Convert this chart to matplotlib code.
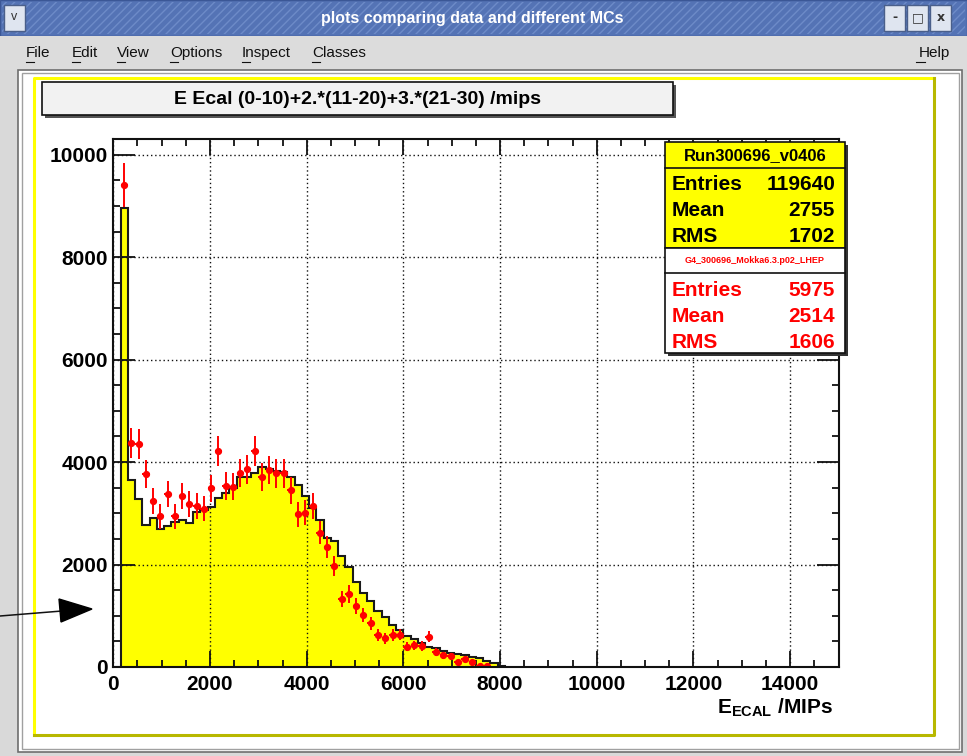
import numpy as np
import matplotlib
matplotlib.use("Agg")
import matplotlib.pyplot as plt
from matplotlib.patches import Rectangle, Polygon
from matplotlib.lines import Line2D

plt.rcParams['font.family'] = ['Liberation Sans', 'DejaVu Sans']
plt.rcParams['mathtext.fontset'] = 'custom'
plt.rcParams['mathtext.bf'] = 'Liberation Sans:bold'
plt.rcParams['mathtext.rm'] = 'Liberation Sans:bold'

# ---------------- data ----------------
bin_width = 150.0
x_range = (0, 15000)
# yellow histogram: Run300696_v0406 (bins of 150 starting at 0)
data_counts = [0, 8950, 3648, 3285, 2775, 2915, 2692, 2751, 2835, 2868,
               2809, 3030, 3063, 3130, 3300, 3390, 3500, 3713, 3713, 3795,
               3905, 3857, 3824, 3811, 3714, 3560, 3345, 3100, 2860, 2515,
               2460, 2170, 1955, 1665, 1445, 1285, 1099, 969, 819, 722,
               605, 540, 462, 397, 364, 319, 280, 254, 228, 202,
               169, 124, 72, 25]
# red points: G4_300696_Mokka6.3.p02_LHEP, scaled to data
mc_counts = [0, 9404, 4377, 4351, 3765, 3233, 2946, 3375, 2946, 3336,
             3174, 3141, 3089, 3486, 4214, 3531, 3518, 3791, 3857, 4214,
             3714, 3844, 3778, 3778, 3453, 2985, 3011, 3148, 2621, 2340,
             1971, 1325, 1424, 1185, 1018, 852, 624, 565, 624, 630,
             397, 420, 412, 592, 286, 234, 210, 100, 150, 100,
             20, 20]
mc_scale = 119640 / 5975.0

title_text = "E Ecal (0-10)+2.*(11-20)+3.*(21-30) /mips"
stats_data = ("Run300696_v0406", [("Entries", "119640"), ("Mean", "2755"), ("RMS", "1702")])
stats_mc = ("G4_300696_Mokka6.3.p02_LHEP", [("Entries", "5975"), ("Mean", "2514"), ("RMS", "1606")])
x_ticks = [0, 2000, 4000, 6000, 8000, 10000, 12000, 14000]
y_ticks = [0, 2000, 4000, 6000, 8000, 10000]

# ---------------- figure ----------------
W, H = 967, 756
fig = plt.figure(figsize=(W / 100, H / 100), dpi=100)
fig.patch.set_facecolor('#d9d9d9')


def fx(x):
    return x / W


def fy(y):
    return 1 - y / H


def rect(x0, y0, x1, y1, z=0, **kw):
    r = Rectangle((fx(x0), fy(y1)), (x1 - x0) / W, (y1 - y0) / H,
                  transform=fig.transFigure, zorder=z, **kw)
    fig.add_artist(r)
    return r


def line(xs, ys, z=1, **kw):
    l = Line2D([fx(v) for v in xs], [fy(v) for v in ys],
               transform=fig.transFigure, zorder=z, **kw)
    fig.add_artist(l)
    return l


def text(x, y, s, **kw):
    return fig.text(fx(x), fy(y), s, **kw)


# window title bar
rect(0, 0, 967, 36, z=0, facecolor='#5473b5', edgecolor='#3b5796', linewidth=1)
rect(2, 2, 965, 34, z=0, facecolor='none', edgecolor='#6d8bc8', hatch='////', linewidth=0)
text(472, 19, "plots comparing data and different MCs", color='white', fontsize=11.5,
     fontweight='bold', ha='center', va='center')
# title bar buttons
rect(4, 5, 25, 31, z=1, facecolor='#dfe5f0', edgecolor='#4a5f8a', linewidth=1)
text(14.5, 17, "v", fontsize=9, ha='center', va='center', color='#333333')
for bx, glyph in [(884, "-"), (907, "□"), (930, "x")]:
    rect(bx, 5, bx + 21, 31, z=1, facecolor='#dfe5f0', edgecolor='#4a5f8a', linewidth=1)
    text(bx + 10.5, 17.5, glyph, fontsize=9, ha='center', va='center', color='#333333',
         fontweight='bold', family=['DejaVu Sans'])

# menu bar
rect(0, 36, 967, 70, z=0, facecolor='#dcdcdc', edgecolor='none')
menu_items = [("File", 26), ("Edit", 72), ("View", 117), ("Options", 170),
              ("Inspect", 242), ("Classes", 312)]
for name, mx in menu_items:
    t = text(mx, 53, name, fontsize=11, ha='left', va='center', color='#111111')
text(950, 53, "Help", fontsize=11, ha='right', va='center', color='#111111')
# underline first letters
for name, mx in menu_items:
    line([mx, mx + 8], [62, 62], color='#111111', linewidth=0.8)
line([916, 925], [62, 62], color='#111111', linewidth=0.8)

# canvas sunken frame
rect(18, 70, 962, 752, z=0, facecolor='#ffffff', edgecolor='#6e6e6e', linewidth=1.2)
rect(22, 73, 959, 749, z=0, facecolor='#ffffff', edgecolor='#a0a0a0', linewidth=1.0)

# yellow bevel border of the pad
line([34, 34, 934], [735, 78, 78], color='#ffff00', linewidth=2.2, z=1)
line([34, 934, 934], [735, 735, 78], color='#b8b800', linewidth=2.2, z=1)

# ---------------- axes ----------------
ax_l, ax_r, ax_t, ax_b = 113.3, 838.5, 139.3, 667.0
ax = fig.add_axes([fx(ax_l), fy(ax_b), (ax_r - ax_l) / W, (ax_b - ax_t) / H])
ax.set_facecolor('white')
ymax = 10300
ax.set_xlim(*x_range)
ax.set_ylim(0, ymax)

edges = np.arange(len(data_counts) + 1) * bin_width
ax.stairs(data_counts, edges, fill=True, color='#ffff00', zorder=2)
ax.stairs(data_counts, edges, color='#1a1a1a', linewidth=1.5, zorder=3, baseline=0)

mc = np.array(mc_counts, dtype=float)
centers = (np.arange(len(mc)) + 0.5) * bin_width
mask = mc > 0
errs = np.sqrt(mc[mask] * mc_scale)
ax.errorbar(centers[mask], mc[mask], yerr=errs, xerr=bin_width / 2, fmt='o',
            color='#ff0000', ecolor='#ff0000', markersize=4.2, elinewidth=1.4,
            capsize=0, zorder=4)

ax.set_xticks(x_ticks)
ax.set_yticks(y_ticks)
ax.set_xticks(np.arange(0, 15001, 500), minor=True)
ax.set_yticks(np.arange(0, ymax, 500), minor=True)
ax.set_xticklabels([str(v) for v in x_ticks])
ax.set_yticklabels([str(v) for v in y_ticks])
ax.tick_params(axis='both', which='both', direction='in', top=True, right=True,
               labelsize=15, width=1.3, color='#111111')
ax.tick_params(axis='x', which='major', length=11.5, pad=6)
ax.tick_params(axis='x', which='minor', length=5)
ax.tick_params(axis='y', which='major', length=16, pad=4)
ax.tick_params(axis='y', which='minor', length=5)
for lab in ax.get_xticklabels() + ax.get_yticklabels():
    lab.set_fontweight('bold')
ax.grid(True, which='major', color='#111111', linestyle=(0, (1, 2)), linewidth=1.0, zorder=1)
ax.set_axisbelow(False)
for sp in ax.spines.values():
    sp.set_linewidth(1.5)
    sp.set_color('#111111')
    sp.set_zorder(5)

text(833, 713, r"$\mathbf{E}_{\mathbf{ECAL}}$ /MIPs", fontsize=15, fontweight='bold',
     ha='right', va='baseline')

# ---------------- title box ----------------
rect(45, 85, 676, 118, z=3, facecolor='#555555', edgecolor='none')
rect(42, 82, 673, 115, z=3, facecolor='#f2f2f2', edgecolor='#111111', linewidth=1.2)
text(357.5, 99, title_text, fontsize=14, fontweight='bold', ha='center', va='center', zorder=4)

# ---------------- stats boxes ----------------
sx0, sx1 = 665, 845
rect(sx0 + 3, 145, sx1 + 3, 356, z=6, facecolor='#333333', edgecolor='none')
rect(sx0, 142, sx1, 248, z=6, facecolor='#ffff00', edgecolor='#111111', linewidth=1.2)
rect(sx0, 248, sx1, 353, z=6, facecolor='#ffffff', edgecolor='#111111', linewidth=1.2)
line([sx0, sx1], [168, 168], z=7, color='#111111', linewidth=1.2)
line([sx0, sx1], [273, 273], z=7, color='#111111', linewidth=1.2)

text((sx0 + sx1) / 2, 156, stats_data[0], fontsize=12, fontweight='bold', ha='center',
     va='center', color='black', zorder=8)
for i, (k, v) in enumerate(stats_data[1]):
    yy = 184 + i * 26.5
    text(672, yy, k, fontsize=15, fontweight='bold', ha='left', va='center', color='black', zorder=8)
    text(835, yy, v, fontsize=15, fontweight='bold', ha='right', va='center', color='black', zorder=8)

text((sx0 + sx1) / 2, 260.5, stats_mc[0], fontsize=6.5, fontweight='bold', ha='center',
     va='center', color='#ff0000', zorder=8)
for i, (k, v) in enumerate(stats_mc[1]):
    yy = 290 + i * 26.5
    text(672, yy, k, fontsize=15, fontweight='bold', ha='left', va='center', color='#ff0000', zorder=8)
    text(835, yy, v, fontsize=15, fontweight='bold', ha='right', va='center', color='#ff0000', zorder=8)

# ---------------- annotation arrow ----------------
line([0, 62], [616, 611], z=9, color='#111111', linewidth=1.1)
fig.add_artist(Polygon([[fx(59), fy(599)], [fx(92), fy(609)], [fx(61), fy(622)]],
                       closed=True, transform=fig.transFigure, facecolor='black',
                       edgecolor='black', zorder=9))

fig.savefig("out.png", dpi=100, facecolor=fig.get_facecolor())
